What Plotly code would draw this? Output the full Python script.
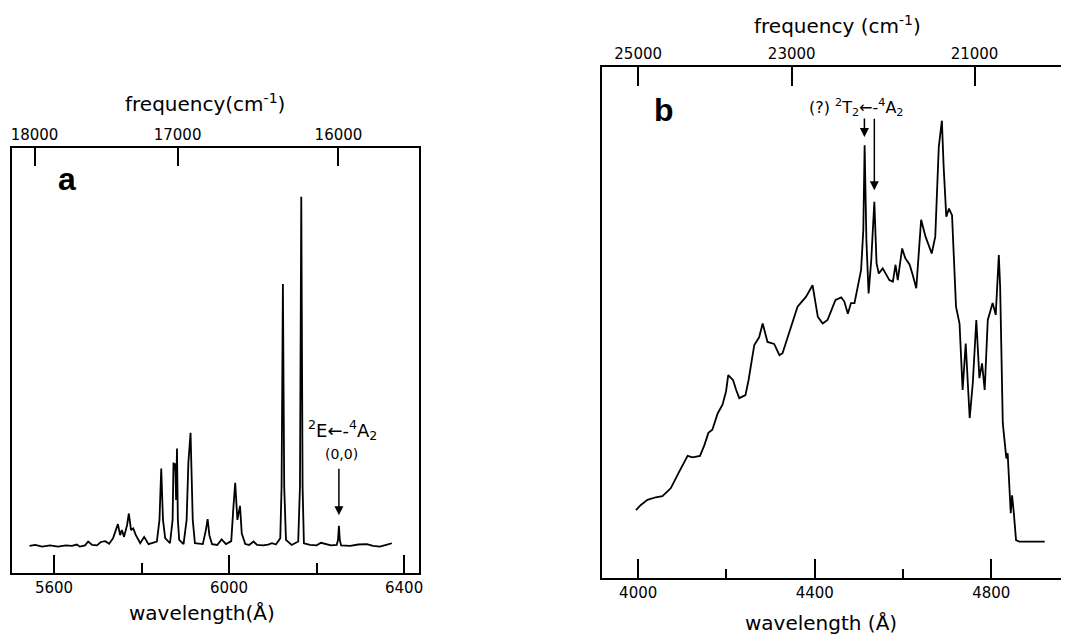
import plotly.graph_objects as go

# ---------------- data ----------------
# Panel a: emission spectrum, wavelength (Angstrom) vs intensity (arb. units)
a_wavelength = [5544, 5557, 5573, 5591, 5609, 5627, 5641, 5652, 5659, 5671,
                5678, 5687, 5698, 5707, 5717, 5726, 5735, 5746, 5751, 5755,
                5760, 5767, 5771, 5776, 5781, 5787, 5797, 5806, 5816, 5826,
                5835, 5841, 5845, 5849, 5854, 5865, 5871, 5873, 5875, 5877,
                5879, 5881, 5883, 5886, 5896, 5903, 5907, 5912, 5917, 5922,
                5940, 5947, 5951, 5955, 5961, 5973, 5983, 5993, 6005, 6010,
                6014, 6019, 6025, 6029, 6037, 6046, 6056, 6064, 6078, 6089,
                6098, 6107, 6117, 6120, 6123, 6126, 6130, 6143, 6158, 6162,
                6165, 6168, 6171, 6185, 6200, 6210, 6223, 6233, 6246, 6249,
                6251, 6253, 6256, 6277, 6295, 6315, 6329, 6345, 6359, 6372]
a_intensity = [6.4, 6.6, 6.2, 6.5, 6.2, 6.5, 6.4, 6.7, 6.2, 6.5,
               7.4, 6.6, 6.5, 7.3, 7.5, 6.9, 8.2, 11.5, 8.9, 10.1,
               8.5, 11.3, 14.0, 10.1, 10.5, 8.9, 7.0, 8.5, 6.8, 7.1,
               7.4, 12.5, 24.6, 12.5, 8.2, 7.0, 12.5, 26.0, 24.2, 25.8,
               17.2, 29.3, 12.5, 7.8, 6.8, 12.5, 25.9, 33.0, 12.5, 7.0,
               6.8, 10.1, 12.7, 8.9, 6.8, 6.6, 7.9, 6.8, 7.5, 15.6,
               21.2, 12.5, 15.8, 9.3, 6.8, 6.6, 7.4, 6.6, 6.5, 6.7,
               7.0, 6.7, 8.2, 20.3, 68.0, 20.3, 7.8, 6.6, 7.4, 20.3,
               88.5, 20.3, 7.0, 6.6, 6.5, 7.1, 6.8, 6.5, 6.6, 7.8,
               11.1, 7.8, 6.5, 6.4, 6.7, 6.8, 6.4, 6.2, 6.6, 7.0]

# Panel b: spectrum, wavelength (Angstrom) vs intensity (arb. units)
b_wavelength = [3995, 4006, 4021, 4040, 4055, 4074, 4093, 4112, 4123, 4140,
                4150, 4159, 4168, 4180, 4191, 4199, 4204, 4215, 4222, 4229,
                4243, 4250, 4263, 4274, 4282, 4293, 4308, 4320, 4327, 4342,
                4361, 4380, 4395, 4407, 4418, 4429, 4437, 4447, 4460, 4467,
                4475, 4482, 4490, 4500, 4505, 4510, 4513, 4517, 4522, 4528,
                4535, 4540, 4545, 4554, 4564, 4569, 4577, 4583, 4588, 4598,
                4605, 4615, 4622, 4630, 4641, 4651, 4665, 4673, 4681, 4688,
                4692, 4698, 4704, 4711, 4720, 4728, 4735, 4742, 4751, 4758,
                4766, 4773, 4779, 4785, 4792, 4803, 4810, 4813, 4817, 4820,
                4826, 4834, 4837, 4844, 4847, 4851, 4856, 4864, 4921]
b_intensity = [13.3, 14.3, 15.3, 15.8, 16.0, 17.6, 20.8, 23.9, 23.6, 23.9,
               26.0, 28.4, 29.0, 32.2, 33.9, 36.5, 39.7, 38.7, 36.8, 35.2,
               35.8, 38.7, 45.6, 47.1, 49.8, 46.2, 45.8, 43.6, 44.0, 47.9,
               53.1, 55.0, 57.3, 51.1, 49.8, 50.5, 52.1, 54.4, 54.9, 54.1,
               51.7, 53.8, 53.8, 57.7, 60.3, 68.1, 84.7, 66.1, 55.7, 62.2,
               73.6, 61.6, 59.6, 60.6, 59.0, 58.3, 58.0, 61.3, 58.3, 64.5,
               62.6, 61.3, 59.3, 56.7, 70.1, 66.8, 63.5, 66.8, 84.4, 89.5,
               80.5, 70.7, 72.3, 71.0, 53.1, 49.8, 36.8, 45.9, 31.3, 38.1,
               50.5, 39.1, 42.0, 36.8, 50.5, 53.8, 51.5, 57.7, 63.2, 57.0,
               30.3, 23.4, 24.4, 12.7, 16.2, 12.7, 7.4, 7.1, 7.1]

a_wl_ticks = [5600, 6000, 6400]
a_wl_minor = [5800, 6200]
a_freq_ticks = [18000, 17000, 16000]
b_wl_ticks = [4000, 4400, 4800]
b_wl_minor = [4200, 4600]
b_freq_ticks = [25000, 23000, 21000]

# ---------------- layout helpers ----------------
# the page body has an 8px margin, so the figure is shrunk and shifted
OFF = 8
W, H = 1069 - OFF, 635 - OFF
FONT = "DejaVu Sans"


def fx(px):
    return (px - OFF) / W


def fy(py):
    return 1 - (py - OFF) / H


def wn_to_wl(wn):
    return 1e8 / wn


a_range = [5504, 6434]
b_range = [3918, 4976]

fig = go.Figure()
fig.add_trace(go.Scatter(x=a_wavelength, y=a_intensity, mode="lines",
                         line=dict(color="black", width=1.8),
                         xaxis="x", yaxis="y", showlegend=False,
                         hoverinfo="skip"))
fig.add_trace(go.Scatter(x=b_wavelength, y=b_intensity, mode="lines",
                         line=dict(color="black", width=1.8),
                         xaxis="x3", yaxis="y3", showlegend=False,
                         hoverinfo="skip"))
# invisible copies so the top (frequency) axes get drawn
fig.add_trace(go.Scatter(x=a_wavelength, y=a_intensity, mode="lines",
                         line=dict(color="rgba(0,0,0,0)", width=0),
                         opacity=0, xaxis="x2", yaxis="y", showlegend=False,
                         hoverinfo="skip"))
fig.add_trace(go.Scatter(x=b_wavelength, y=b_intensity, mode="lines",
                         line=dict(color="rgba(0,0,0,0)", width=0),
                         opacity=0, xaxis="x4", yaxis="y3", showlegend=False,
                         hoverinfo="skip"))

common_x = dict(showgrid=False, zeroline=False, showline=True, linewidth=2,
                linecolor="black", ticks="inside", tickwidth=2,
                tickcolor="black", tickmode="array",
                tickfont=dict(family=FONT, size=15, color="black"))
common_y = dict(showgrid=False, zeroline=False, showline=True, linewidth=2,
                linecolor="black", ticks="", showticklabels=False,
                range=[0, 100], fixedrange=True)

fig.update_layout(
    width=W, height=H,
    margin=dict(l=0, r=0, t=0, b=0, autoexpand=False),
    paper_bgcolor="white", plot_bgcolor="white",
    showlegend=False,
    xaxis=dict(**common_x, domain=[fx(12), fx(419)], anchor="y",
               range=a_range, tickvals=a_wl_ticks,
               ticktext=[str(v) for v in a_wl_ticks], ticklen=18,
               minor=dict(tickmode="array", tickvals=a_wl_minor,
                          ticks="inside", ticklen=10, tickwidth=2,
                          tickcolor="black", showgrid=False)),
    xaxis2=dict(**common_x, overlaying="x", side="top", anchor="y",
                range=a_range,
                tickvals=[wn_to_wl(f) for f in a_freq_ticks],
                ticktext=[str(f) for f in a_freq_ticks], ticklen=18),
    yaxis=dict(**common_y, domain=[fy(573), fy(148)], anchor="x",
               mirror=True),
    xaxis3=dict(**common_x, domain=[fx(602), 1.0], anchor="y3",
                range=b_range, tickvals=b_wl_ticks,
                ticktext=[str(v) for v in b_wl_ticks], ticklen=19,
                minor=dict(tickmode="array", tickvals=b_wl_minor,
                           ticks="inside", ticklen=9, tickwidth=2,
                           tickcolor="black", showgrid=False)),
    xaxis4=dict(**common_x, overlaying="x3", side="top", anchor="y3",
                range=b_range,
                tickvals=[wn_to_wl(f) for f in b_freq_ticks],
                ticktext=[str(f) for f in b_freq_ticks], ticklen=19),
    yaxis3=dict(**common_y, domain=[fy(578), fy(67)], anchor="x3",
                mirror=False),
)

ann = []


def title(text, cx, cy, size=20):
    ann.append(dict(text=text, xref="paper", yref="paper", x=fx(cx), y=fy(cy),
                    xanchor="center", yanchor="middle", showarrow=False,
                    font=dict(family=FONT, size=size, color="black")))


title("frequency(cm<sup>-1</sup>)", 205, 103)
title("wavelength(Å)", 202, 613)
title("frequency (cm<sup>-1</sup>)", 837, 25)
title("wavelength (Å)", 821, 623)

# panel letters
ann.append(dict(text="<b>a</b>", xref="x", yref="y", x=5629, y=92.8,
                xanchor="center", yanchor="middle", showarrow=False,
                font=dict(family="Liberation Sans", size=32, color="black")))
ann.append(dict(text="<b>b</b>", xref="x3", yref="y3", x=4059, y=91.6,
                xanchor="center", yanchor="middle", showarrow=False,
                font=dict(family="Liberation Sans", size=32, color="black")))

# panel a assignment
ann.append(dict(text="<sup>2</sup>E←-<sup>4</sup>A<sub>2</sub>", xref="x",
                yref="y", x=6259, y=33.6, xanchor="center", yanchor="middle",
                showarrow=False,
                font=dict(family=FONT, size=18, color="black")))
ann.append(dict(text="(0,0)", xref="x", yref="y", x=6257, y=28.0,
                xanchor="center", yanchor="middle", showarrow=False,
                font=dict(family=FONT, size=14, color="black")))
ann.append(dict(text="", xref="x", yref="y", x=6251, y=13.6,
                ax=0, ay=-48, showarrow=True, arrowhead=2, arrowsize=1.2,
                arrowwidth=1.5, arrowcolor="black"))

# panel b assignment
ann.append(dict(text="(?) <sup>2</sup>T<sub>2</sub>←-<sup>4</sup>A<sub>2</sub>",
                xref="x3", yref="y3", x=4494, y=92.0, xanchor="center",
                yanchor="middle", showarrow=False,
                font=dict(family=FONT, size=16, color="black")))
ann.append(dict(text="", xref="x3", yref="y3", x=4512.5, y=86.3,
                ax=0, ay=-20, showarrow=True, arrowhead=2, arrowsize=1.2,
                arrowwidth=1.5, arrowcolor="black"))
ann.append(dict(text="", xref="x3", yref="y3", x=4535, y=75.9,
                ax=0, ay=-73, showarrow=True, arrowhead=2, arrowsize=1.2,
                arrowwidth=1.5, arrowcolor="black"))

fig.update_layout(annotations=ann)

fig.write_html("out.html")
